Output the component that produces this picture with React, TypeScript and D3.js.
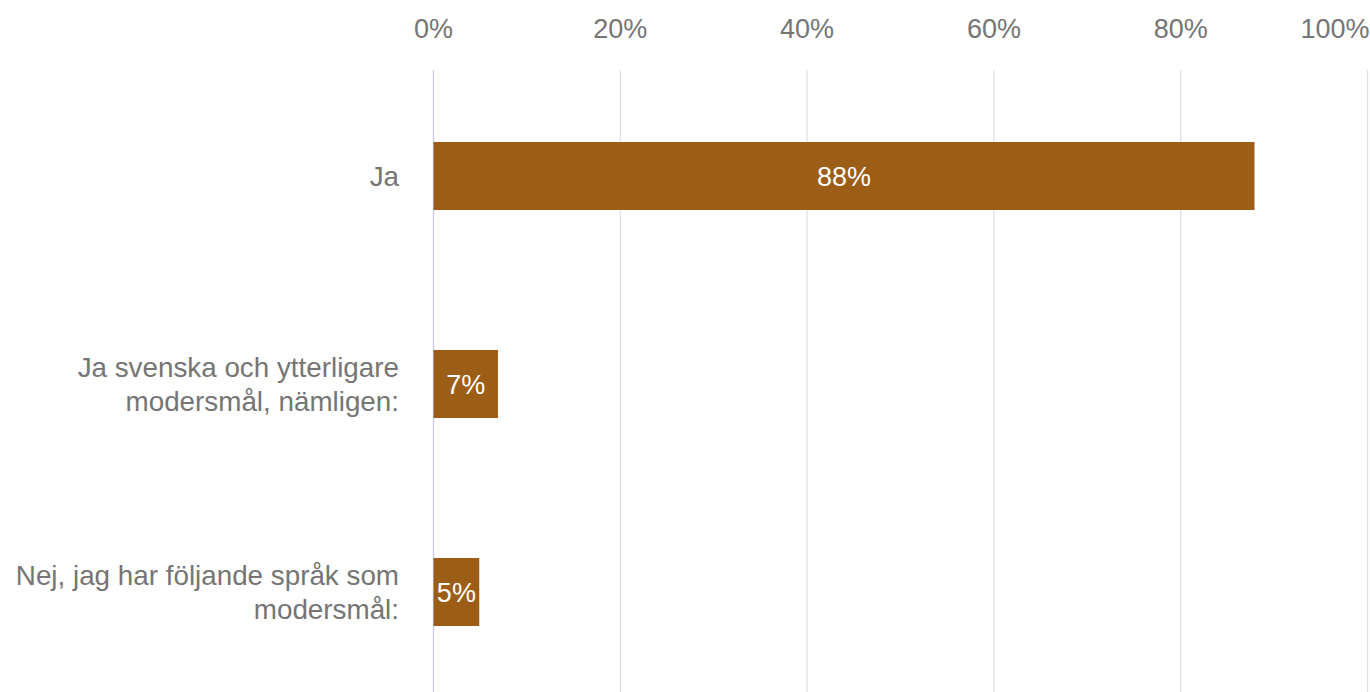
import React from "react";
import * as d3 from "d3";

const categories: string[][] = [
  ["Ja"],
  ["Ja svenska och ytterligare", "modersmål, nämligen:"],
  ["Nej, jag har följande språk som", "modersmål:"],
];
const values: number[] = [0.879, 0.069, 0.049];
const valueLabels: string[] = ["88%", "7%", "5%"];
const ticks: number[] = [0, 0.2, 0.4, 0.6, 0.8, 1];

const W = 1370;
const H = 692;
const FONT = "'Liberation Sans', Arial, sans-serif";

export default function App() {
  const x = d3.scaleLinear().domain([0, 1]).range([433.5, 1367.5]);
  const y = d3
    .scaleBand<number>()
    .domain(d3.range(categories.length))
    .range([72, 696])
    .paddingInner(0.673)
    .paddingOuter(0.3365);
  const fmt = d3.format(".0%");

  return (
    <svg
      width={W}
      height={H}
      style={{ position: "absolute", left: 0, top: 0, background: "#fff" }}
      fontFamily={FONT}
    >
      {ticks.map((t) => (
        <g key={t}>
          <line
            x1={x(t)}
            x2={x(t)}
            y1={70}
            y2={H}
            stroke={t === 0 ? "#c5cbe9" : "#e0e0e0"}
            strokeWidth={1.3}
          />
          <text
            x={x(t)}
            y={38}
            textAnchor={t === 1 ? "end" : "middle"}
            dx={t === 1 ? 2 : 0}
            fontSize={27}
            fill="#757575"
          >
            {fmt(t)}
          </text>
        </g>
      ))}
      {values.map((v, i) => {
        const y0 = y(i)!;
        const bh = y.bandwidth();
        const cy = y0 + bh / 2;
        const lines = categories[i];
        const lh = 34;
        return (
          <g key={i}>
            <rect
              x={x(0)}
              y={y0}
              width={x(v) - x(0)}
              height={bh}
              fill="#9c5e17"
            />
            <text
              x={(x(0) + x(v)) / 2}
              y={cy + 10}
              textAnchor="middle"
              fontSize={27}
              fill="#fff"
            >
              {valueLabels[i]}
            </text>
            {lines.map((ln, j) => (
              <text
                key={j}
                x={399}
                y={cy + 10 + (j - (lines.length - 1) / 2) * lh}
                textAnchor="end"
                fontSize={27.8}
                fill="#757575"
              >
                {ln}
              </text>
            ))}
          </g>
        );
      })}
    </svg>
  );
}
